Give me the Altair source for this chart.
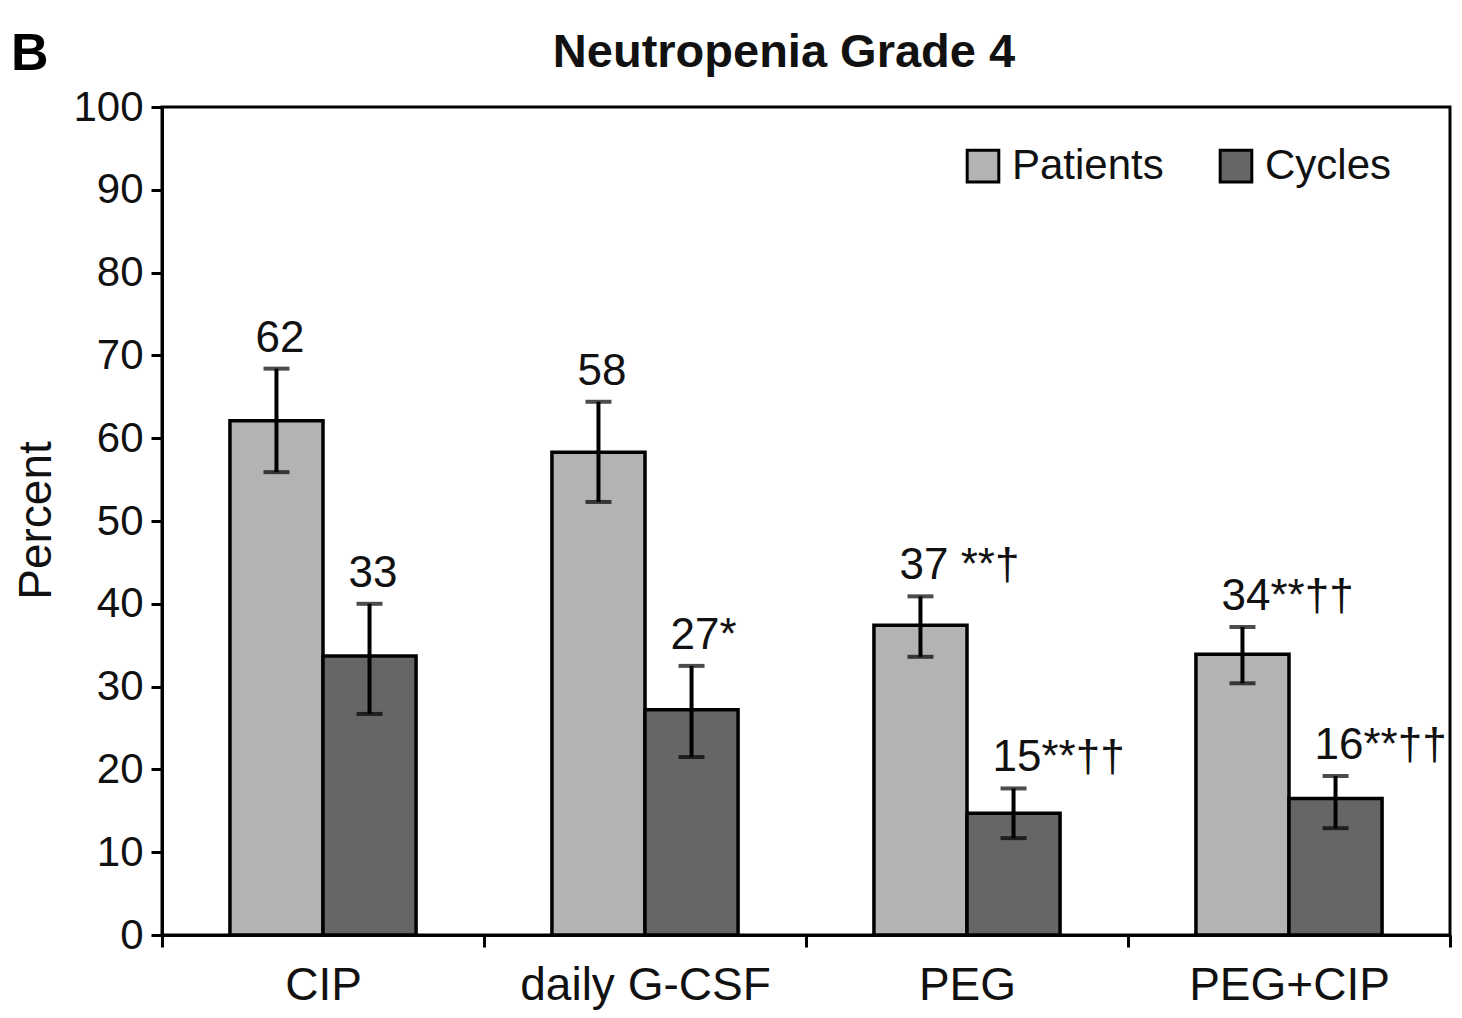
import altair as alt
import pandas as pd

categories = ["CIP", "daily G-CSF", "PEG", "PEG+CIP"]
series = ["Patients", "Cycles"]
patients = [62.1, 58.3, 37.4, 33.9]
patients_lo = [55.9, 52.3, 33.6, 30.4]
patients_hi = [68.4, 64.4, 40.9, 37.2]
patients_labels = ["62", "58", "37 **†", "34**††"]
cycles = [33.7, 27.2, 14.7, 16.5]
cycles_lo = [26.7, 21.5, 11.7, 12.9]
cycles_hi = [40.0, 32.5, 17.7, 19.2]
cycles_labels = ["33", "27*", "15**††", "16**††"]
y_ticks = [0, 10, 20, 30, 40, 50, 60, 70, 80, 90, 100]
title_text = "Neutropenia Grade 4"
panel_letter = "B"

rows = []
for i, c in enumerate(categories):
    rows.append({"cat": c, "series": "Patients", "v": patients[i], "lo": patients_lo[i],
                 "hi": patients_hi[i], "label": patients_labels[i]})
    rows.append({"cat": c, "series": "Cycles", "v": cycles[i], "lo": cycles_lo[i],
                 "hi": cycles_hi[i], "label": cycles_labels[i]})
df = pd.DataFrame(rows)

FONT = "Liberation Sans"

xenc = alt.X("cat:N", sort=categories, title=None,
             scale=alt.Scale(paddingInner=0, paddingOuter=0),
             axis=alt.Axis(tickBand="extent", labelAngle=0, labelFontSize=46, labelFont=FONT,
                           labelColor="#111", labelLimit=0, domainColor="black", domainWidth=3,
                           tickColor="black", tickWidth=3, tickSize=12, labelPadding=16))
xoff = alt.XOffset("series:N", sort=series,
                   scale=alt.Scale(domain=series, paddingInner=0, paddingOuter=0.73))
yscale = alt.Scale(domain=[0, 100], nice=False)

base = alt.Chart(df)

bars = base.mark_bar(stroke="black", strokeWidth=3.5).encode(
    x=xenc,
    xOffset=xoff,
    y=alt.Y("v:Q", scale=yscale, title="Percent",
            axis=alt.Axis(values=y_ticks, grid=False, labelFontSize=42, labelFont=FONT,
                          labelColor="#111", domainColor="black", domainWidth=3,
                          tickColor="black", tickWidth=3, tickSize=11, labelPadding=8,
                          titleFontSize=46, titleFont=FONT, titleFontWeight="normal",
                          titleColor="#111", titleAngle=270, titleX=-126, titleY=413,
                          titleAlign="center", titleBaseline="middle")),
    color=alt.Color("series:N", sort=series,
                    scale=alt.Scale(domain=series, range=["#b3b3b3", "#666666"]),
                    legend=alt.Legend(title=None, orient="none", legendX=800, legendY=38,
                                      direction="horizontal", symbolType="square",
                                      symbolSize=1000, symbolStrokeColor="black",
                                      symbolStrokeWidth=3, labelFontSize=42, labelFont=FONT,
                                      labelColor="#111", labelOffset=8, columnPadding=50)),
)

rules = base.mark_rule(color="black", strokeWidth=4).encode(
    x=alt.X("cat:N", sort=categories),
    xOffset=xoff,
    y=alt.Y("lo:Q", scale=yscale),
    y2="hi:Q",
)

caps_hi = base.mark_tick(color="black", thickness=4, size=26).encode(
    x=alt.X("cat:N", sort=categories),
    xOffset=xoff,
    y=alt.Y("hi:Q", scale=yscale),
)
caps_lo = base.mark_tick(color="black", thickness=4, size=26).encode(
    x=alt.X("cat:N", sort=categories),
    xOffset=xoff,
    y=alt.Y("lo:Q", scale=yscale),
)

labels = base.mark_text(align="left", baseline="alphabetic", dx=-21, dy=-17,
                        fontSize=44, font=FONT, color="#111").encode(
    x=alt.X("cat:N", sort=categories),
    xOffset=xoff,
    y=alt.Y("hi:Q", scale=yscale),
    text="label:N",
)

panel = alt.Chart(pd.DataFrame({"t": [panel_letter]})).mark_text(
    align="left", baseline="alphabetic", fontSize=52, fontWeight="bold", font=FONT, color="black"
).encode(text="t:N", x=alt.value(-151), y=alt.value(-37))

title = alt.Chart(pd.DataFrame({"t": [title_text]})).mark_text(
    align="center", baseline="alphabetic", fontSize=47, fontWeight="bold", font=FONT, color="#111"
).encode(text="t:N", x=alt.value(622), y=alt.value(-40))

chart = alt.layer(bars, rules, caps_hi, caps_lo, labels, panel, title).properties(
    width=1288, height=828,
    padding={"left": 154, "top": 99, "right": 4, "bottom": 75},
    autosize=alt.AutoSizeParams(type="none"),
).configure(background="white").configure_view(stroke="black", strokeWidth=3)

chart.save("out.html", embed_options={"renderer": "svg", "actions": False})
